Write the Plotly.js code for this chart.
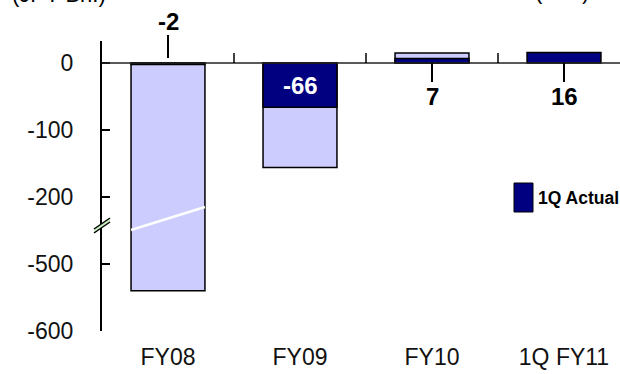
<!DOCTYPE html>
<html>
<head>
<meta charset="utf-8">
<script src="https://cdn.plot.ly/plotly-3.0.1.min.js"></script>
<style>
  html, body { margin: 0; padding: 0; background: #fff; }
  #chart { width: 620px; height: 374px; }
</style>
</head>
<body>
<div id="chart"></div>
<script>
// Operating result by fiscal year (JPY Bn.)
const categories = ['FY08', 'FY09', 'FY10', '1Q FY11'];
const fullYear   = [-540, -156, 15, null];   // full-year result
const firstQ     = [-2, -66, 7, 16];         // 1Q actual
const yTickVals  = [0, -100, -200, -500, -600];

// Broken value axis: everything below the break is shifted up by 200
const BREAK_AT = -250, BREAK_SHIFT = 200;
const toAxis = v => (v == null ? null : (v < BREAK_AT ? v + BREAK_SHIFT : v));

const FONT = 'Arial, "Liberation Sans", sans-serif';
const LIGHT = '#CCCCFF', DARK = '#000080';

// plot-area pixel helpers for decorations
const L = 102, T = 41, W = 518, H = 290;
const px = x => (x - L) / W;
const py = y => (T + H - y) / H;

const traces = [
  {
    type: 'bar', name: 'Full year', x: categories, y: fullYear.map(toAxis),
    marker: { color: LIGHT, line: { color: '#000', width: 1.5 } },
    width: 0.56, showlegend: false, hoverinfo: 'skip'
  },
  {
    type: 'bar', name: '1Q Actual', x: categories, y: firstQ.map(toAxis),
    marker: { color: DARK, line: { color: '#000', width: 1.5 } },
    width: 0.56, showlegend: false, hoverinfo: 'skip'
  }
];

const shapes = [
  // zero line
  { type: 'line', xref: 'paper', yref: 'y', x0: 0, x1: 1, y0: 0, y1: 0,
    line: { color: '#222', width: 1.5 } },
  // axis break marks
  { type: 'path', xref: 'paper', yref: 'paper',
    path: `M ${px(94)} ${py(233)} L ${px(110)} ${py(222)} L ${px(110)} ${py(218)} L ${px(94)} ${py(229)} Z`,
    fillcolor: '#C8F0C0', line: { width: 0 } },
  { type: 'line', xref: 'paper', yref: 'paper', x0: px(94), y0: py(233), x1: px(110), y1: py(222),
    line: { color: '#000', width: 1.5 } },
  { type: 'line', xref: 'paper', yref: 'paper', x0: px(94), y0: py(229), x1: px(110), y1: py(218),
    line: { color: '#000', width: 1.5 } },
  // break across the FY08 bar
  { type: 'line', xref: 'x', yref: 'paper', x0: -0.28, x1: 0.28, y0: py(230), y1: py(207),
    line: { color: '#fff', width: 2.5 } },
  // legend swatch
  { type: 'rect', xref: 'paper', yref: 'paper', x0: px(514), x1: px(533), y0: py(212), y1: py(183),
    fillcolor: DARK, line: { color: '#000', width: 1 } }
];

// small separators between categories on the zero line
[0.5, 1.5, 2.5].forEach(x => shapes.push({
  type: 'line', xref: 'x', yref: 'paper', x0: x, x1: x, y0: py(63), y1: py(53),
  line: { color: '#000', width: 1.5 }
}));

// value labels with leader lines
const labelSpec = [
  { i: 0, color: '#000', y: 21, lead: [35, 58] },
  { i: 1, color: '#fff', y: 85, lead: null },
  { i: 2, color: '#000', y: 96, lead: [63, 82] },
  { i: 3, color: '#000', y: 96, lead: [63, 82] }
];
const annotations = [];
labelSpec.forEach(s => {
  annotations.push({
    xref: 'x', yref: 'paper', x: s.i, y: py(s.y), yanchor: 'middle', xanchor: 'center',
    text: '<b>' + firstQ[s.i] + '</b>', showarrow: false,
    font: { family: FONT, size: 24, color: s.color }
  });
  if (s.lead) shapes.push({
    type: 'line', xref: 'x', yref: 'paper', x0: s.i, x1: s.i, y0: py(s.lead[0]), y1: py(s.lead[1]),
    line: { color: '#000', width: 2 }
  });
});
annotations.push(
  { xref: 'paper', yref: 'paper', x: px(536), y: py(198), xanchor: 'left', yanchor: 'middle',
    text: '<b>1Q Actual</b>', showarrow: false, font: { family: FONT, size: 17.5, color: '#000' } },
  { xref: 'paper', yref: 'paper', x: px(10), y: py(-6), xanchor: 'left', yanchor: 'middle',
    text: '(JPY Bn.)', showarrow: false, font: { family: FONT, size: 22, color: '#000' } },
  { xref: 'paper', yref: 'paper', x: px(533), y: py(-9), xanchor: 'left', yanchor: 'middle',
    text: '(YoY)', showarrow: false, font: { family: FONT, size: 22, color: '#000' } }
);

const layout = {
  width: 620, height: 374,
  margin: { l: L, r: 620 - L - W, t: T, b: 374 - T - H, pad: 0 },
  paper_bgcolor: '#fff', plot_bgcolor: 'rgba(0,0,0,0)',
  barmode: 'overlay', showlegend: false,
  font: { family: FONT, color: '#000' },
  xaxis: {
    type: 'category', range: [-0.5, -0.5 + W / 132],
    showline: false, showgrid: false, zeroline: false, ticks: '',
    ticklabelstandoff: 10,
    tickfont: { family: FONT, size: 23, color: '#111' }
  },
  yaxis: {
    range: [-400, 33], showgrid: false, zeroline: false,
    showline: true, linecolor: '#000', linewidth: 2,
    ticks: 'inside', ticklen: 8, tickwidth: 2, tickcolor: '#000',
    tickvals: yTickVals.map(toAxis), ticktext: yTickVals.map(String),
    ticklabelstandoff: 22,
    tickfont: { family: FONT, size: 23, color: '#111' }
  },
  shapes: shapes,
  annotations: annotations
};

Plotly.newPlot('chart', traces, layout, { staticPlot: true, displayModeBar: false });
</script>
</body>
</html>
